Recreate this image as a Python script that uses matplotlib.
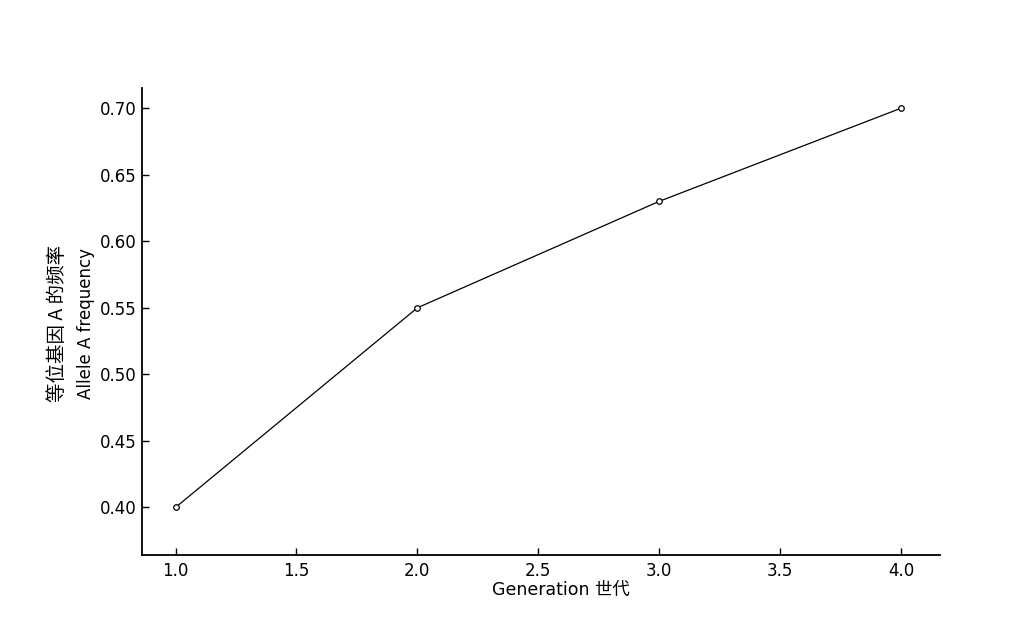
import matplotlib
matplotlib.use('Agg')
import matplotlib.pyplot as plt

plt.rcParams['font.family'] = ['DejaVu Sans', 'Noto Sans CJK SC']

generation = [1, 2, 3, 4]
freq_A = [0.40, 0.55, 0.63, 0.70]
xticks = [1.0, 1.5, 2.0, 2.5, 3.0, 3.5, 4.0]
yticks = [0.40, 0.45, 0.50, 0.55, 0.60, 0.65, 0.70]

fig = plt.figure(figsize=(10.27, 6.17), dpi=100)
ax = fig.add_axes([0.138, 0.100, 0.777, 0.757])

ax.plot(generation, freq_A, color='black', lw=0.9, marker='o', ms=4,
        mfc='white', mec='black', mew=0.9)

ax.set_xlim(0.86, 4.16)
ax.set_ylim(0.364, 0.715)
ax.set_xticks(xticks)
ax.set_xticklabels([f"{v:.1f}" for v in xticks])
ax.set_yticks(yticks)
ax.set_yticklabels([f"{v:.2f}" for v in yticks])

for s in ['top', 'right']:
    ax.spines[s].set_visible(False)
for s in ['left', 'bottom']:
    ax.spines[s].set_linewidth(1.3)
ax.tick_params(direction='in', length=5, width=1, labelsize=12)
ax.tick_params(axis='y', pad=4)
ax.tick_params(axis='x', pad=5)

ax.set_xlabel("Generation 世代", fontsize=12.5,
              family=['DejaVu Sans', 'Noto Sans CJK SC'])
ax.xaxis.set_label_coords(0.525, -0.056)

# two-line y label, Chinese on the outside
fig.text(0.056, 0.476, "等位基因 A 的频率", rotation=90, fontsize=14,
         ha='center', va='center',
         family=['Noto Sans CJK SC', 'DejaVu Sans'])
fig.text(0.084, 0.476, "Allele A frequency", rotation=90, fontsize=12,
         ha='center', va='center')

fig.savefig('out.png', dpi=100)
